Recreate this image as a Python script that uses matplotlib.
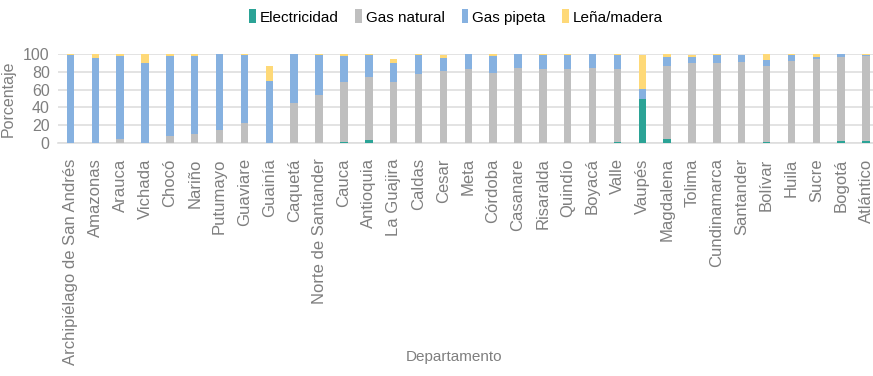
import numpy as np
import matplotlib
matplotlib.use("Agg")
import matplotlib.pyplot as plt

departamentos = [
    "Archipiélago de San Andrés", "Amazonas", "Arauca", "Vichada", "Chocó",
    "Nariño", "Putumayo", "Guaviare", "Guainía", "Caquetá",
    "Norte de Santander", "Cauca", "Antioquia", "La Guajira", "Caldas",
    "Cesar", "Meta", "Córdoba", "Casanare", "Risaralda", "Quindío",
    "Boyacá", "Valle", "Vaupés", "Magdalena", "Tolima", "Cundinamarca",
    "Santander", "Bolívar", "Huila", "Sucre", "Bogotá", "Atlántico",
]

# porcentaje de hogares por tipo de energía para cocinar
electricidad = [0, 0, 0, 0, 0, 0, 0, 0, 0, 0,
                0, 1.5, 3, 0, 0, 0, 0, 0, 0, 0, 0,
                0, 1.5, 49, 4, 0, 0, 0, 1, 0, 0, 2.3, 2.3]
gas_natural = [0.5, 0, 4, 0, 8.3, 10.6, 14.4, 22, 0, 44.7,
               54, 67.5, 71, 69, 78, 81.4, 83.7, 78.8, 84.5, 83.7, 83.3,
               84.5, 81.8, 0, 82.4, 90, 90, 91.3, 85.4, 91.7, 94, 94.7, 95]
gas_pipeta = [98, 95.5, 93.7, 89.4, 89.4, 87.1, 85.6, 76.5, 69.7, 55.3,
              44.5, 28.7, 24.5, 21, 20.5, 13.6, 16.3, 18.9, 15.5, 15.2, 15.6,
              15.5, 15.2, 12, 9.8, 6.6, 8.5, 7.6, 6.8, 6.8, 3, 2.6, 1.6]
lena_madera = [1.5, 4.5, 2.3, 10.6, 2.3, 2.3, 0, 1.5, 16.7, 0,
               1.5, 2.3, 1.5, 4, 1.5, 3.5, 0, 2.3, 0, 1.1, 1.1,
               0, 1.5, 37.5, 3.8, 2.3, 1.5, 0, 6.8, 1.5, 3, 0.4, 1.1]

series = [
    ("Electricidad", electricidad, "#2ba396"),
    ("Gas natural", gas_natural, "#bfbfbf"),
    ("Gas pipeta", gas_pipeta, "#86b1e0"),
    ("Leña/madera", lena_madera, "#fed978"),
]

fuente = ["Liberation Sans Narrow", "Liberation Sans", "DejaVu Sans"]
gris = "#7f7f7f"

fig = plt.figure(figsize=(8.73, 3.76), dpi=100)
ax = fig.add_axes([58 / 873, 1 - 143 / 376, 1 - 58 / 873, 89 / 376])

x = np.arange(len(departamentos))
base = np.zeros(len(departamentos))
for nombre, valores, color in series:
    valores = np.array(valores, dtype=float)
    ax.bar(x, valores, width=0.3, bottom=base, color=color, label=nombre,
           zorder=3)
    base += valores

ax.set_xlim(-0.5, 32.28)
ax.set_ylim(0, 100)
ax.set_yticks([0, 20, 40, 60, 80, 100])
ax.grid(axis="y", color="#dedede", linewidth=1.2, zorder=0)
for lado in ["top", "right", "left"]:
    ax.spines[lado].set_visible(False)
ax.spines["bottom"].set_color("#dedede")
ax.spines["bottom"].set_linewidth(1.2)
ax.tick_params(axis="both", length=0, colors=gris)
ax.tick_params(axis="y", labelsize=11.5, pad=6)
ax.tick_params(axis="x", labelsize=12, pad=11)

ax.set_xticks(x)
ax.set_xticklabels(departamentos, rotation=90, family=fuente)
for lbl in ax.get_yticklabels():
    lbl.set_family(fuente)

ax.set_ylabel("Porcentaje", color=gris, fontsize=11.5, family=fuente, labelpad=5)
fig.text(454 / 873, 1 - 357 / 376, "Departamento", color=gris, fontsize=11,
         family=fuente, ha="center", va="center")

fig.legend(loc="center", bbox_to_anchor=(456 / 873, 1 - 17 / 376), ncol=4,
           frameon=False, prop={"family": fuente, "size": 11},
           handlelength=0.45, handleheight=1.0, handletextpad=0.25,
           columnspacing=1.1)

fig.savefig("out.png", dpi=100)
